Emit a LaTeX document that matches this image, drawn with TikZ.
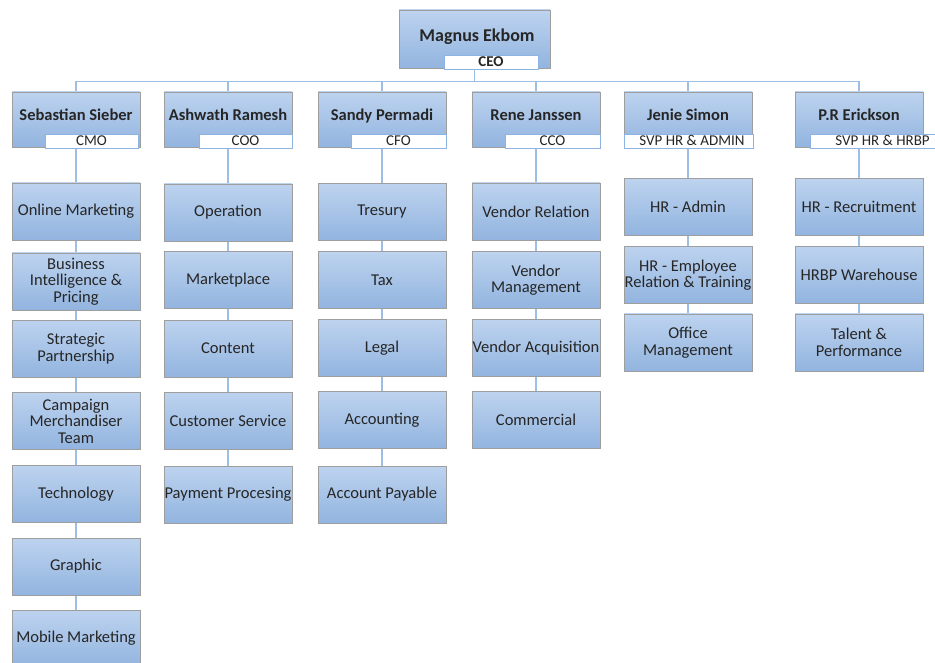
\documentclass[tikz,border=0pt]{standalone}
\usepackage{fontspec}
\setmainfont{Carlito}
\usetikzlibrary{backgrounds}
\definecolor{boxtop}{HTML}{BDD3EF}
\definecolor{boxbot}{HTML}{92B4DF}
\definecolor{boxline}{HTML}{9E9E9E}
\definecolor{linkc}{HTML}{9DBFE5}
\definecolor{subline}{HTML}{8DB3E2}
\definecolor{txt}{HTML}{262626}
\begin{document}
\begin{tikzpicture}[x=1pt,y=-1pt,
  unitbox/.style={draw=boxline,line width=0.8pt,top color=boxtop,bottom color=boxbot,
    minimum width=128pt,minimum height=57pt,inner sep=0pt,align=center,text=txt,
    font=\fontsize{16.5}{16.5}\selectfont},
  mgrbox/.style={draw=boxline,line width=0.8pt,top color=boxtop,bottom color=boxbot,
    minimum width=128pt,minimum height=55pt,inner sep=0pt},
  ceobox/.style={draw=boxline,line width=0.8pt,top color=boxtop,bottom color=boxbot,
    minimum width=151pt,minimum height=58pt,inner sep=0pt},
  nametext/.style={anchor=base,inner sep=0pt,text=txt,font=\bfseries\fontsize{16.5}{18}\selectfont},
  subbox/.style={draw=subline,line width=0.9pt,fill=white,inner sep=0pt,minimum height=14pt,
    text height=10pt,text depth=1pt,text=txt,font=\fontsize{15}{16}\selectfont},
  link/.style={draw=linkc,line width=1.5pt}
]
\useasboundingbox (0,0) rectangle (935,663);

% CEO
\node[ceobox] (ceo) at (474.5,39) {};
\node[nametext,font=\bfseries\fontsize{18}{20}\selectfont] (ceoname) at (477,41.5) {Magnus Ekbom};
\node[subbox,minimum width=94pt,font=\bfseries\fontsize{15}{16}\selectfont] (ceot) at (491,62) {CEO};

% Level 2
\node[mgrbox] (m1) at (76,119.5) {};
\node[nametext] (n1) at (76,121) {Sebastian Sieber};
\node[subbox,minimum width=93pt] (s1) at (91.5,141) {CMO};

\node[mgrbox] (m2) at (228,119.5) {};
\node[nametext] (n2) at (228,121) {Ashwath Ramesh};
\node[subbox,minimum width=93pt] (s2) at (245.5,141) {COO};

\node[mgrbox] (m3) at (382,119.5) {};
\node[nametext] (n3) at (382,121) {Sandy Permadi};
\node[subbox,minimum width=95pt] (s3) at (398.5,141) {CFO};

\node[mgrbox] (m4) at (536,119.5) {};
\node[nametext] (n4) at (536,121) {Rene Janssen};
\node[subbox,minimum width=95pt] (s4) at (552.5,141) {CCO};

\node[mgrbox] (m5) at (688,119.5) {};
\node[nametext] (n5) at (688,121) {Jenie Simon};
\node[subbox,minimum width=129pt] (s5) at (688.5,141) {\hspace{7pt}SVP HR \& ADMIN};

\node[mgrbox] (m6) at (859,119.5) {};
\node[nametext] (n6) at (859,121) {P.R Erickson};
\node[subbox,minimum width=145pt] (s6) at (882.5,141) {SVP HR \& HRBP};

% Column 1
\node[unitbox] (a1) at (76,211.5) {Online Marketing};
\node[unitbox] (a2) at (76,281.5) {Business\\Intelligence \&\\Pricing};
\node[unitbox] (a3) at (76,348.5) {Strategic\\Partnership};
\node[unitbox] (a4) at (76,421) {Campaign\\Merchandiser\\Team};
\node[unitbox] (a5) at (76,494) {Technology};
\node[unitbox] (a6) at (76,566.5) {Graphic};
\node[unitbox] (a7) at (76,638.5) {Mobile Marketing};

% Column 2
\node[unitbox] (b1) at (228,212.5) {Operation};
\node[unitbox] (b2) at (228,280) {Marketplace};
\node[unitbox] (b3) at (228,348.5) {Content};
\node[unitbox] (b4) at (228,420.5) {Customer Service};
\node[unitbox] (b5) at (228,494.5) {Payment Procesing};

% Column 3
\node[unitbox] (c1) at (382,212) {Tresury};
\node[unitbox] (c2) at (382,280) {Tax};
\node[unitbox] (c3) at (382,348) {Legal};
\node[unitbox] (c4) at (382,420) {Accounting};
\node[unitbox] (c5) at (382,494.5) {Account Payable};

% Column 4
\node[unitbox] (d1) at (536,211.5) {Vendor Relation};
\node[unitbox] (d2) at (536,280) {Vendor\\Management};
\node[unitbox] (d3) at (536,348) {Vendor Acquisition};
\node[unitbox] (d4) at (536,420) {Commercial};

% Column 5
\node[unitbox] (e1) at (688,207) {HR - Admin};
\node[unitbox] (e2) at (688,275) {HR - Employee\\Relation \& Training};
\node[unitbox] (e3) at (688,342.5) {Office\\Management};

% Column 6
\node[unitbox] (f1) at (859,207) {HR - Recruitment};
\node[unitbox] (f2) at (859,275) {HRBP Warehouse};
\node[unitbox] (f3) at (859,342.5) {Talent \&\\Performance};

\begin{scope}[on background layer]
  \draw[link] (ceo.south) -- ++(0,14);
  \draw[link] (m1.north) -- ++(0,-10) -| (m6.north);
  \foreach \m in {m2,m3,m4,m5} \draw[link] (\m.north) -- ++(0,-10);
  \foreach \u/\v in {m1/a1,a1/a2,a2/a3,a3/a4,a4/a5,a5/a6,a6/a7,
                     m2/b1,b1/b2,b2/b3,b3/b4,b4/b5,
                     m3/c1,c1/c2,c2/c3,c3/c4,c4/c5,
                     m4/d1,d1/d2,d2/d3,d3/d4,
                     m5/e1,e1/e2,e2/e3,
                     m6/f1,f1/f2,f2/f3}
    \draw[link] (\u.south) -- (\v.north);
\end{scope}
\end{tikzpicture}
\end{document}
